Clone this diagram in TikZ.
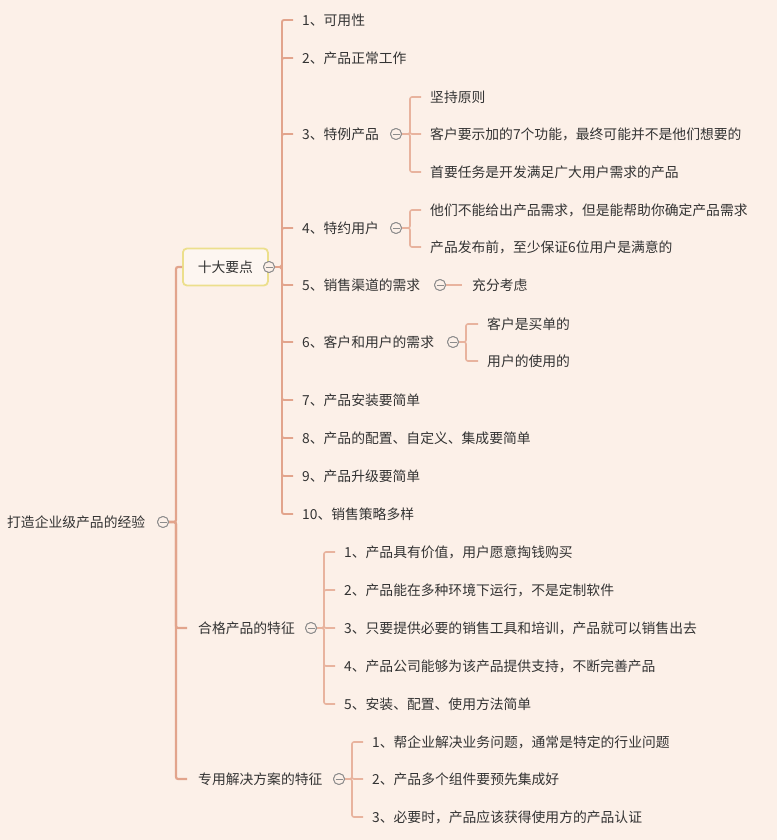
\documentclass[tikz,border=0pt]{standalone}
\usepackage{fontspec}
\newfontfamily\cjk{Noto Sans CJK SC}
\definecolor{bg}{HTML}{FCF0E8}
\definecolor{ln}{HTML}{E2A48C}
\definecolor{ln2}{HTML}{E8B39E}
\definecolor{tx}{HTML}{333333}
\definecolor{yb}{HTML}{ECDF8C}
\definecolor{cg}{HTML}{8C8C8C}
\begin{document}
\begin{tikzpicture}[x=1pt,y=-1pt,
  every node/.style={font=\cjk\fontsize{13.8}{15}\selectfont, text=tx},
  lbl/.style={anchor=west, inner sep=0pt},
  cir/.style={circle, draw=cg, line width=0.9pt, fill=bg, minimum size=11pt, inner sep=0pt,
     path picture={\draw[cg, line width=0.9pt] ([xshift=-3.5pt]path picture bounding box.center) -- ([xshift=3.5pt]path picture bounding box.center);}},
  topbox/.style={draw=yb, line width=1.8pt, rounded corners=4pt, fill=bg!60!white, minimum width=85pt, minimum height=37pt, anchor=west},
  b1/.style={draw=ln, line width=2.2pt, rounded corners=2pt},
  b2/.style={draw=ln, line width=1.9pt, rounded corners=2pt},
  b3/.style={draw=ln2, line width=1.6pt, rounded corners=2pt}]
\fill[bg] (0,0) rectangle (777,840);
\useasboundingbox (0,0) rectangle (777,840);

% root
\node[lbl] (root) at (7,522) {打造企业级产品的经验};
\node[cir] (croot) at (163,522) {};
\coordinate (j0) at (176,522);

% level 1
\node[topbox] (k1) at (182,267) {十大要点};
\node[cir] (ck1) at (269,267) {};
\node[lbl] (k2) at (198,628) {合格产品的特征};
\node[cir] (ck2) at (311,628) {};
\node[lbl] (k3) at (198,779) {专用解决方案的特征};
\node[cir] (ck3) at (339,779) {};

\foreach \c/\g in {k1/0,k2/11,k3/11}
  \draw[b1] (croot.east) -- (j0 |- croot.east) |- ([xshift=-\g]\c.west);

% ten points
\coordinate (ja) at (282,267);
\node[lbl] (a1) at (302,20) {1、可用性};
\node[lbl] (a2) at (302,58) {2、产品正常工作};
\node[lbl] (a3) at (302,134) {3、特例产品};
\node[lbl] (a4) at (302,228) {4、特约用户};
\node[lbl] (a5) at (302,285) {5、销售渠道的需求};
\node[lbl] (a6) at (302,342) {6、客户和用户的需求};
\node[lbl] (a7) at (302,400) {7、产品安装要简单};
\node[lbl] (a8) at (302,438) {8、产品的配置、自定义、集成要简单};
\node[lbl] (a9) at (302,476) {9、产品升级要简单};
\node[lbl] (a10) at (302,514) {10、销售策略多样};
\foreach \c in {a1,a2,a3,a4,a5,a6,a7,a8,a9,a10}
  \draw[b2] (ck1.east) -- (ja |- ck1.east) |- ([xshift=-9]\c.west);
\node[cir] at (ck1) {};

% 3
\node[cir] (ca3) at (396,134) {};
\coordinate (jb) at (410,134);
\node[lbl] (b1) at (430,97) {坚持原则};
\node[lbl] (b2) at (430,134) {客户要示加的7个功能，最终可能并不是他们想要的};
\node[lbl] (b3) at (430,172) {首要任务是开发满足广大用户需求的产品};
\foreach \c in {b1,b2,b3}
  \draw[b3] (ca3.east) -- (jb |- ca3.east) |- ([xshift=-9]\c.west);

% 4
\node[cir] (ca4) at (396,228) {};
\coordinate (jc) at (410,228);
\node[lbl] (c1) at (430,210) {他们不能给出产品需求，但是能帮助你确定产品需求};
\node[lbl] (c2) at (430,247) {产品发布前，至少保证6位用户是满意的};
\foreach \c in {c1,c2}
  \draw[b3] (ca4.east) -- (jc |- ca4.east) |- ([xshift=-9]\c.west);

% 5
\node[cir] (ca5) at (440,285) {};
\node[lbl] (d1) at (472,285) {充分考虑};
\draw[b3] (ca5.east) -- ([xshift=-10]d1.west);

% 6
\node[cir] (ca6) at (453,342) {};
\coordinate (je) at (466,342);
\node[lbl] (e1) at (487,324) {客户是买单的};
\node[lbl] (e2) at (487,361) {用户的使用的};
\foreach \c in {e1,e2}
  \draw[b3] (ca6.east) -- (je |- ca6.east) |- ([xshift=-9]\c.west);

% 合格产品的特征
\coordinate (jf) at (324,628);
\node[lbl] (f1) at (344,552) {1、产品具有价值，用户愿意掏钱购买};
\node[lbl] (f2) at (344,590) {2、产品能在多种环境下运行，不是定制软件};
\node[lbl] (f3) at (344,628) {3、只要提供必要的销售工具和培训，产品就可以销售出去};
\node[lbl] (f4) at (344,666) {4、产品公司能够为该产品提供支持，不断完善产品};
\node[lbl] (f5) at (344,704) {5、安装、配置、使用方法简单};
\foreach \c in {f1,f2,f3,f4,f5}
  \draw[b3] (ck2.east) -- (jf |- ck2.east) |- ([xshift=-9]\c.west);

% 专用解决方案的特征
\coordinate (jg) at (352,779);
\node[lbl] (g1) at (372,742) {1、帮企业解决业务问题，通常是特定的行业问题};
\node[lbl] (g2) at (372,779) {2、产品多个组件要预先集成好};
\node[lbl] (g3) at (372,817) {3、必要时，产品应该获得使用方的产品认证};
\foreach \c in {g1,g2,g3}
  \draw[b3] (ck3.east) -- (jg |- ck3.east) |- ([xshift=-9]\c.west);

% redraw circles on top
\node[cir] at (croot) {};
\node[cir] at (ck2) {};
\node[cir] at (ck3) {};
\node[cir] at (ca3) {};
\node[cir] at (ca4) {};
\node[cir] at (ca5) {};
\node[cir] at (ca6) {};
\end{tikzpicture}
\end{document}
